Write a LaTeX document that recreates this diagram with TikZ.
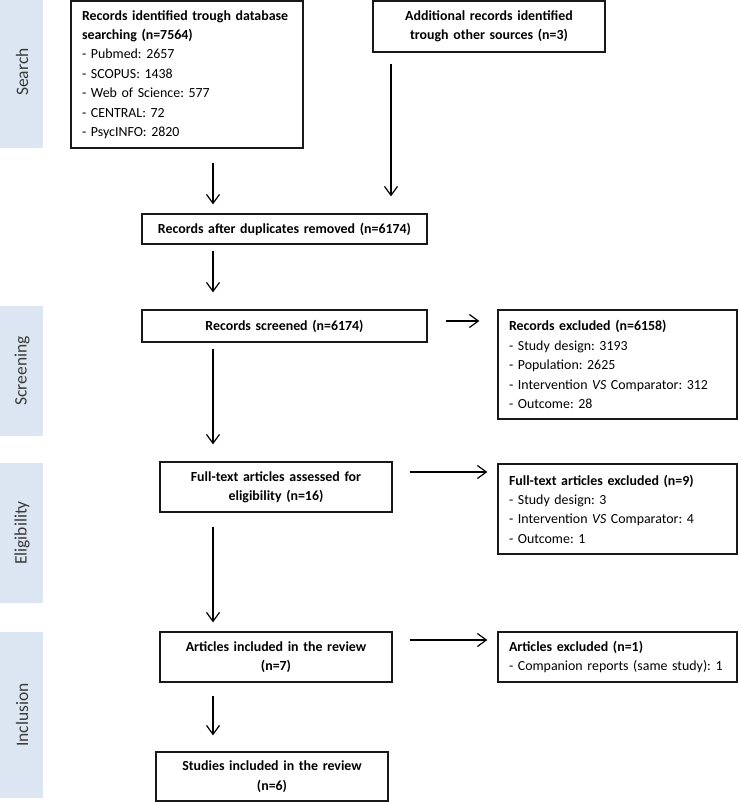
\documentclass[tikz,border=0pt]{standalone}
\usepackage{fontspec}
\setmainfont{Carlito}
\frenchspacing
\usetikzlibrary{arrows.meta}
\definecolor{band}{HTML}{DCE6F2}
\definecolor{bandtext}{HTML}{3A3A3A}
\begin{document}
\begin{tikzpicture}[x=1pt,y=-1pt,
  box/.style={draw=black!90, line width=1.2pt, inner ysep=0pt, inner xsep=11pt,
     font=\fontsize{13.9}{19.4}\selectfont, anchor=center},
  lbox/.style={box, align=left},
  cbox/.style={box, align=center},
  bandlabel/.style={rotate=90, font=\fontsize{17.5}{20}\selectfont, text=bandtext},
  arr/.style={-{Straight Barb[length=9pt,width=13pt]}, line width=1.2pt}]
\useasboundingbox (0,0) rectangle (739,802);
% phase bands
\fill[band] (0,0) rectangle (43,148);
\fill[band] (0,306) rectangle (43,436);
\fill[band] (0,463) rectangle (43,603);
\fill[band] (0,632) rectangle (43,798);
\node[bandlabel] (lsearch) at (22,72) {Search};
\node[bandlabel] (lscreen) at (22,371) {Screening};
\node[bandlabel] (lelig) at (22,533) {Eligibility};
\node[bandlabel] (lincl) at (22,715) {Inclusion};
% boxes
\node[lbox, text width=210pt, minimum height=147pt] (A) at (187,74.5)
 {\textbf{Records identified trough database}\\
  \textbf{searching (n=7564)}\\
  - Pubmed: 2657\\
  - SCOPUS: 1438\\
  - Web of Science: 577\\
  - CENTRAL: 72\\
  - PsycINFO: 2820};
\node[cbox, text width=210pt, minimum height=51pt] (B) at (489,26.5)
 {\textbf{Additional records identified}\\ \textbf{trough other sources (n=3)}};
\node[cbox, text width=263pt, minimum height=30pt] (C) at (284.5,229)
 {\textbf{Records after duplicates removed (n=6174)}};
\node[cbox, text width=263pt, minimum height=32pt] (D) at (284.5,326)
 {\textbf{Records screened (n=6174)}};
\node[lbox, text width=217pt, minimum height=109pt] (E) at (617.5,364.5)
 {\textbf{Records excluded (n=6158)}\\
  - Study design: 3193\\
  - Population: 2625\\
  - Intervention \textit{VS} Comparator: 312\\
  - Outcome: 28};
\node[cbox, text width=210pt, minimum height=50pt] (F) at (276,487)
 {\textbf{Full-text articles assessed for}\\ \textbf{eligibility (n=16)}};
\node[lbox, text width=217pt, minimum height=90pt] (G) at (617.5,509)
 {\textbf{Full-text articles excluded (n=9)}\\
  - Study design: 3\\
  - Intervention \textit{VS} Comparator: 4\\
  - Outcome: 1};
\node[cbox, text width=210pt, minimum height=50pt] (H) at (276,657)
 {\textbf{Articles included in the review}\\ \textbf{(n=7)}};
\node[lbox, text width=217pt, minimum height=50pt] (I) at (617.5,657)
 {\textbf{Articles excluded (n=1)}\\
  - Companion reports (same study): 1};
\node[cbox, text width=210pt, minimum height=49pt] (J) at (272,776.5)
 {\textbf{Studies included in the review}\\ \textbf{(n=6)}};
% connector guides
\coordinate (xl) at (213,0);
\coordinate (xr) at (391,0);
\coordinate (y1) at (0,321);
\coordinate (y2) at (0,472);
\coordinate (y3) at (0,640);
% connectors
\draw[arr, shorten <=14pt, shorten >=9pt] (A.south -| xl) -- (C.north -| xl);
\draw[arr, shorten <=11pt, shorten >=17pt] (B.south -| xr) -- (C.north -| xr);
\draw[arr, shorten <=6pt, shorten >=17pt] (C.south -| xl) -- (D.north -| xl);
\draw[arr, shorten <=18pt, shorten >=18pt] (D.east |- y1) -- (E.west |- y1);
\draw[arr, shorten <=6pt, shorten >=17pt] (D.south -| xl) -- (F.north -| xl);
\draw[arr, shorten <=17pt, shorten >=10pt] (F.east |- y2) -- (G.west |- y2);
\draw[arr, shorten <=14pt, shorten >=9pt] (F.south -| xl) -- (H.north -| xl);
\draw[arr, shorten <=17pt, shorten >=10pt] (H.east |- y3) -- (I.west |- y3);
\draw[arr, shorten <=13pt, shorten >=16pt] (H.south -| xl) -- (J.north -| xl);
\end{tikzpicture}
\end{document}
